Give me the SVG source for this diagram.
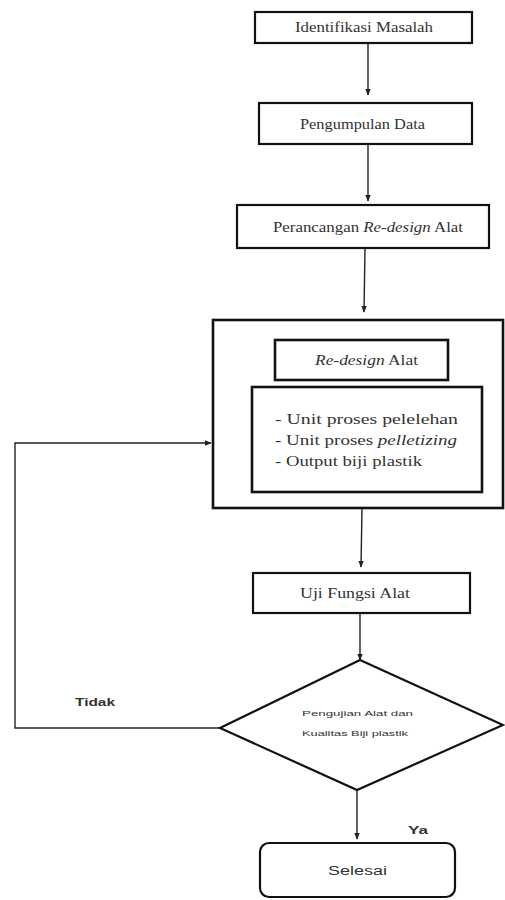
<svg xmlns="http://www.w3.org/2000/svg" width="505" height="900" viewBox="0 0 505 900">
<style>
.box{fill:#fff;stroke:#111;stroke-width:2.2}
.box2{fill:#fff;stroke:#111;stroke-width:2.6}
.ln{fill:none;stroke:#222;stroke-width:1.4}
.t{font-family:"Liberation Serif","Times New Roman",serif;font-size:14px;fill:#333}
.s{font-family:"Liberation Sans",Arial,sans-serif;fill:#333}
</style>
<defs>
<marker id="ah" viewBox="0 0 10 10" refX="9" refY="5" markerWidth="7" markerHeight="7" orient="auto" markerUnits="userSpaceOnUse">
<path d="M0,1 L10,5 L0,9 Z" fill="#222"/>
</marker>
</defs>
<rect width="505" height="900" fill="#fff"/>
<g id="connectors">
<line class="ln" x1="368" y1="43" x2="368" y2="95" marker-end="url(#ah)"/>
<line class="ln" x1="368" y1="144" x2="368" y2="201" marker-end="url(#ah)"/>
<line class="ln" x1="365" y1="248" x2="364" y2="312" marker-end="url(#ah)"/>
<line class="ln" x1="362" y1="508" x2="361" y2="567" marker-end="url(#ah)"/>
<line class="ln" x1="360" y1="613" x2="360" y2="660" marker-end="url(#ah)"/>
<line class="ln" x1="357" y1="790" x2="357" y2="839" marker-end="url(#ah)"/>
<polyline class="ln" points="220,728 15,728 15,443 211,443" marker-end="url(#ah)"/>
<text class="s" x="75" y="706" font-size="10" font-weight="bold" textLength="40" lengthAdjust="spacingAndGlyphs">Tidak</text>
<text class="s" x="408" y="834" font-size="10" font-weight="bold" textLength="20" lengthAdjust="spacingAndGlyphs">Ya</text>
</g>
<g id="identifikasi">
<rect class="box" x="255" y="12" width="217" height="31"/>
<text class="t" x="295" y="32" textLength="138" lengthAdjust="spacingAndGlyphs">Identifikasi Masalah</text>
</g>
<g id="pengumpulan">
<rect class="box" x="259" y="103" width="213" height="41"/>
<text class="t" x="300" y="129" textLength="125" lengthAdjust="spacingAndGlyphs">Pengumpulan Data</text>
</g>
<g id="perancangan">
<rect class="box" x="237" y="205" width="252" height="43"/>
<text class="t" x="273" y="232" textLength="190" lengthAdjust="spacingAndGlyphs">Perancangan <tspan font-style="italic">Re-design</tspan> Alat</text>
</g>
<g id="redesign-group">
<rect class="box2" x="213" y="320" width="290" height="188"/>
<g id="redesign">
<rect class="box2" x="275" y="340" width="173" height="40"/>
<text class="t" x="315" y="365" textLength="103" lengthAdjust="spacingAndGlyphs"><tspan font-style="italic">Re-design</tspan> Alat</text>
</g>
<g id="units">
<rect class="box2" x="252" y="387" width="230" height="105"/>
<text class="t" x="275" y="424" textLength="183" lengthAdjust="spacingAndGlyphs">-  Unit proses pelelehan</text>
<text class="t" x="275" y="445" textLength="182" lengthAdjust="spacingAndGlyphs">-  Unit proses <tspan font-style="italic">pelletizing</tspan></text>
<text class="t" x="275" y="466" textLength="147" lengthAdjust="spacingAndGlyphs">-  Output biji plastik</text>
</g>
</g>
<g id="uji">
<rect class="box" x="253" y="573" width="217" height="40"/>
<text class="t" x="300" y="598" textLength="110" lengthAdjust="spacingAndGlyphs">Uji Fungsi Alat</text>
</g>
<g id="pengujian">
<polygon class="box" points="360,660 503,725 357,790 220,728"/>
<text class="s" x="302" y="716" font-size="8" textLength="111" lengthAdjust="spacingAndGlyphs">Pengujian Alat dan</text>
<text class="s" x="302" y="736" font-size="8" textLength="106" lengthAdjust="spacingAndGlyphs">Kualitas Biji plastik</text>
</g>
<g id="selesai">
<rect class="box" x="260" y="843" width="195" height="54" rx="9"/>
<text class="s" x="328" y="875" font-size="12" textLength="59" lengthAdjust="spacingAndGlyphs">Selesai</text>
</g>
</svg>
